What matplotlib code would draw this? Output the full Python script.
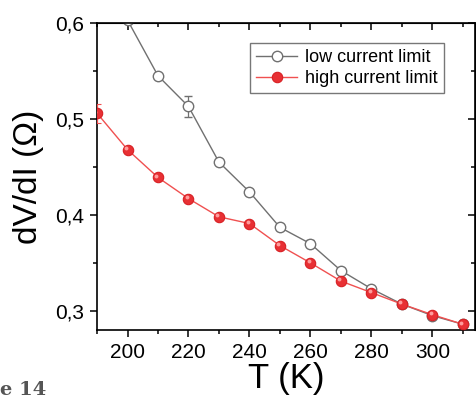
import numpy as np
import matplotlib
matplotlib.use('Agg')
import matplotlib.pyplot as plt
from matplotlib.ticker import MultipleLocator, FuncFormatter
from matplotlib.lines import Line2D
from matplotlib.transforms import ScaledTranslation

plt.rcParams['font.family'] = ['Liberation Sans', 'DejaVu Sans']

T_low = [200, 210, 220, 230, 240, 250, 260, 270, 280, 290, 300, 310]
R_low = [0.603, 0.545, 0.513, 0.455, 0.424, 0.387, 0.370, 0.342, 0.323, 0.307, 0.295, 0.286]
E_low = [0.0, 0.0, 0.011, 0.002, 0.003, 0.003, 0.004, 0.003, 0.002, 0.0, 0.0, 0.0]

T_high = [190, 200, 210, 220, 230, 240, 250, 260, 270, 280, 290, 300, 310]
R_high = [0.506, 0.468, 0.439, 0.417, 0.398, 0.391, 0.368, 0.350, 0.331, 0.319, 0.307, 0.296, 0.286]
E_high = [0.010, 0, 0, 0, 0, 0, 0, 0, 0, 0, 0, 0, 0]

fig = plt.figure(figsize=(4.77, 3.99), dpi=100)
ax = fig.add_axes([0.2034, 0.1729, 0.7924, 0.7695])

ax.errorbar(T_low, R_low, yerr=E_low, color='#707070', lw=1.0, marker='o', ms=7.5,
            mfc='white', mec='#707070', mew=1.0, capsize=3, elinewidth=0.9, zorder=2)
ax.errorbar(T_high, R_high, yerr=E_high, color='#f05050', lw=1.0, marker='o', ms=7.5,
            mfc='#e83034', mec='#d82024', mew=0.8, capsize=3, elinewidth=0.9,
            ecolor='#f05050', zorder=3)
# small highlight to mimic the shaded spheres
hl = ax.transData + ScaledTranslation(-1.2 / 72, 1.2 / 72, fig.dpi_scale_trans)
ax.plot(T_high, R_high, 'o', ms=2.8, color='#ff9c9c', mew=0, transform=hl, zorder=4)

ax.set_xlim(190, 314)
ax.set_ylim(0.28, 0.6)
ax.xaxis.set_major_locator(MultipleLocator(20))
ax.xaxis.set_minor_locator(MultipleLocator(10))
ax.yaxis.set_major_locator(MultipleLocator(0.1))
ax.yaxis.set_minor_locator(MultipleLocator(0.05))
ax.yaxis.set_major_formatter(FuncFormatter(lambda v, p: ('%.1f' % v).replace('.', ',')))

ax.tick_params(which='both', direction='out', top=False, right=False, labelsize=15, width=1.1)
ax.tick_params(which='major', length=5, pad=4)
ax.tick_params(which='minor', length=3)
for s in ax.spines.values():
    s.set_linewidth(1.2)

# mirrored ticks on top/right, pointing inward
sec_x = ax.secondary_xaxis('top')
sec_x.xaxis.set_major_locator(MultipleLocator(20))
sec_x.xaxis.set_minor_locator(MultipleLocator(10))
sec_x.tick_params(which='both', direction='in', labeltop=False, width=1.1)
sec_x.tick_params(which='major', length=5)
sec_x.tick_params(which='minor', length=3)
sec_y = ax.secondary_yaxis('right')
sec_y.yaxis.set_major_locator(MultipleLocator(0.1))
sec_y.yaxis.set_minor_locator(MultipleLocator(0.05))
sec_y.tick_params(which='both', direction='in', labelright=False, width=1.1)
sec_y.tick_params(which='major', length=5)
sec_y.tick_params(which='minor', length=3)

ax.set_xlabel('T (K)', fontsize=25, labelpad=0)
ax.set_ylabel('dV/dI (Ω)', fontsize=24, labelpad=8)

handles = [
    Line2D([], [], color='#707070', lw=1.0, marker='o', ms=7.5, mfc='white',
           mec='#707070', mew=1.0, label='low current limit'),
    Line2D([], [], color='#f05050', lw=1.0, marker='o', ms=7.5, mfc='#e83034',
           mec='#d82024', mew=0.8, label='high current limit'),
]
leg = ax.legend(handles=handles, loc='upper right', bbox_to_anchor=(0.917, 0.935),
                fontsize=13, frameon=True, fancybox=False, edgecolor='#555555',
                handlelength=2.3, handletextpad=0.4, borderpad=0.35,
                labelspacing=0.2, borderaxespad=0)
leg.get_frame().set_linewidth(1.0)

fig.text(0.0, 0.0, 'e 14', fontsize=14, fontweight='bold', color='#555555',
         family='DejaVu Serif', ha='left', va='bottom')

fig.savefig('out.png', dpi=100)
